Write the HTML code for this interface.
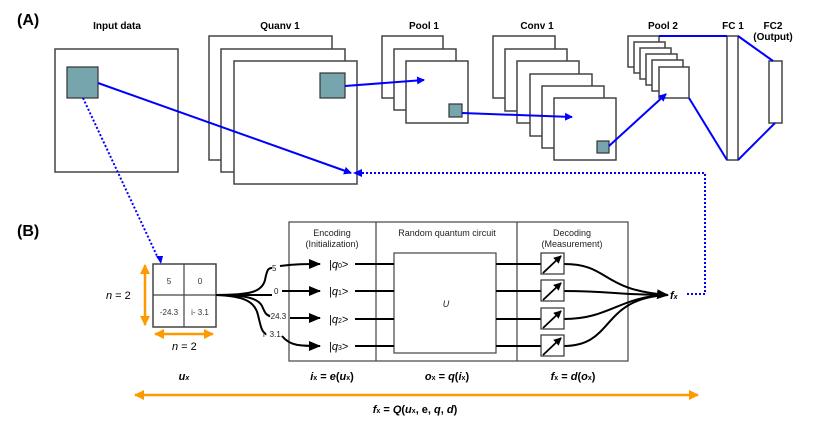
<!DOCTYPE html>
<html><head><meta charset="utf-8"><style>
body{margin:0;background:#fff}
svg{display:block;font-family:"Liberation Sans",Arial,sans-serif}
</style></head><body>
<svg width="830" height="432" viewBox="0 0 830 432" xmlns="http://www.w3.org/2000/svg">
<defs>
<marker id="ab" markerWidth="8" markerHeight="8" refX="7" refY="4" orient="auto" markerUnits="userSpaceOnUse"><path d="M0,0 L8,4 L0,8 z" fill="#00f"/></marker>
<marker id="ak" markerWidth="12" markerHeight="10" refX="11" refY="5" orient="auto" markerUnits="userSpaceOnUse"><path d="M0,0 L12,5 L0,10 z" fill="#000"/></marker>
<marker id="am" markerWidth="8" markerHeight="8" refX="7" refY="4" orient="auto" markerUnits="userSpaceOnUse"><path d="M0,0 L8,4 L0,8 z" fill="#000"/></marker>
<marker id="ao" markerWidth="10" markerHeight="10" refX="9" refY="5" orient="auto-start-reverse" markerUnits="userSpaceOnUse"><path d="M0,0 L10,5 L0,10 z" fill="#f90"/></marker>
</defs>
<g font-weight="bold" font-size="16"><text x="17" y="25">(A)</text><text x="17" y="236">(B)</text></g>
<g font-weight="bold" font-size="10" text-anchor="middle">
<text x="117" y="29">Input data</text><text x="280" y="29">Quanv 1</text>
<text x="424" y="29">Pool 1</text><text x="537" y="29">Conv 1</text>
<text x="663" y="29">Pool 2</text><text x="733" y="29">FC 1</text>
<text x="773" y="29">FC2</text><text x="773" y="40">(Output)</text></g>
<g stroke="#444" stroke-width="1.5" fill="#fff">
<rect x="55" y="49" width="123" height="123"/>
<rect x="209" y="36" width="123" height="124"/><rect x="221" y="49" width="124" height="123"/><rect x="234" y="61" width="123" height="123"/>
<rect x="382" y="36" width="61" height="62"/><rect x="394" y="49" width="62" height="61"/><rect x="406" y="61" width="62" height="62"/>
<rect x="493" y="36" width="62" height="62"/><rect x="505" y="49" width="62" height="62"/><rect x="517" y="61" width="62" height="62"/><rect x="530" y="74" width="62" height="62"/><rect x="542" y="86" width="62" height="62"/><rect x="554" y="98" width="62" height="62"/>
<rect x="628" y="36" width="31" height="31"/><rect x="634" y="42" width="31" height="31"/><rect x="640" y="48" width="31" height="31"/><rect x="646" y="54" width="31" height="31"/><rect x="652" y="60" width="31" height="31"/><rect x="659" y="67" width="30" height="31"/>
<rect x="727" y="36" width="11" height="124"/><rect x="769" y="61" width="13" height="62"/>
</g>
<g fill="#77a5ae" stroke="#333" stroke-width="1.2">
<rect x="67" y="67" width="31" height="31"/><rect x="320" y="73" width="25" height="25"/>
<rect x="449" y="104" width="13" height="13"/><rect x="597" y="141" width="12" height="12"/></g>
<g stroke="#00f" stroke-width="2" fill="none">
<line x1="98" y1="83" x2="351" y2="173" marker-end="url(#ab)"/>
<line x1="345" y1="86" x2="424" y2="80" marker-end="url(#ab)"/>
<line x1="462" y1="113" x2="572" y2="117" marker-end="url(#ab)"/>
<line x1="609" y1="146" x2="666" y2="94" marker-end="url(#ab)"/>
<line x1="659" y1="36" x2="727" y2="36"/><line x1="689" y1="98" x2="727" y2="160"/>
<line x1="738" y1="36" x2="773" y2="61"/><line x1="738" y1="160" x2="775" y2="123"/>
</g>
<g stroke="#00f" stroke-width="2" fill="none" stroke-dasharray="2,2">
<line x1="83" y1="98" x2="158" y2="258"/>
<path d="M687,294 L705,294 L705,173 L362,173"/>
</g>
<path d="M156,256 L163,256 L161,264 z" fill="#00f"/>
<path d="M353,173 L362,169 L362,177 z" fill="#00f"/>
<g stroke="#444" stroke-width="1.5" fill="#fff">
<rect x="153" y="264" width="63" height="63"/></g>
<line x1="184" y1="264" x2="184" y2="327" stroke="#444" stroke-width="1.2"/>
<line x1="153" y1="295" x2="216" y2="295" stroke="#444" stroke-width="1.2"/>
<g font-size="8" text-anchor="middle" fill="#333"><text x="169" y="284">5</text><text x="200" y="284">0</text><text x="169" y="315">-24.3</text><text x="200" y="315">i- 3.1</text></g>
<g stroke="#f90" stroke-width="2.5" fill="none">
<line x1="145" y1="265" x2="145" y2="325" marker-end="url(#ao)" marker-start="url(#ao)"/>
<line x1="155" y1="334" x2="213" y2="334" marker-end="url(#ao)" marker-start="url(#ao)"/>
<line x1="135" y1="395" x2="698" y2="395" marker-end="url(#ao)" marker-start="url(#ao)"/></g>
<g font-size="11"><text x="106" y="299"><tspan font-style="italic">n</tspan> = 2</text><text x="172" y="350"><tspan font-style="italic">n</tspan> = 2</text></g>
<g stroke="#444" stroke-width="1.2" fill="none">
<rect x="289" y="222" width="339" height="139"/><line x1="376" y1="222" x2="376" y2="361"/><line x1="517" y1="222" x2="517" y2="361"/>
<rect x="394" y="253" width="102" height="100" fill="#fff"/></g>
<g font-size="9" text-anchor="middle" fill="#222"><text x="332" y="236">Encoding</text><text x="332" y="247">(Initialization)</text>
<text x="447" y="236">Random quantum circuit</text><text x="572" y="236">Decoding</text><text x="572" y="247">(Measurement)</text>
<text x="446" y="307" font-style="italic">U</text></g>
<g stroke="#000" stroke-width="2" fill="none">
<path d="M216,295 C250,295 262,292 265,280 C267,270 268,268 272,268"/>
<path d="M216,295 L272,295"/>
<path d="M216,295 C245,295 258,298 262,306 C265,313 266,315 270,316"/>
<path d="M216,295 C245,296 255,302 258,315 C261,328 262,332 266,334"/>
<path d="M280,266 C295,264 305,264 320,264" marker-end="url(#ak)"/>
<path d="M282,291 L320,291" marker-end="url(#ak)"/>
<path d="M290,318 L320,318" marker-end="url(#ak)"/>
<path d="M282,336 C290,346 300,346 320,346" marker-end="url(#ak)"/>
<path d="M355,264 H394 M355,291 H394 M355,319 H394 M355,346 H394"/>
<path d="M496,264 H541 M496,291 H541 M496,319 H541 M496,346 H541"/>
<path d="M564,264 C610,264 600,290 668,295" marker-end="url(#ak)"/>
<path d="M564,291 C610,291 620,295 668,295"/>
<path d="M564,319 C610,319 620,296 668,295"/>
<path d="M564,346 C615,346 600,298 668,295"/>
</g>
<g font-size="8" fill="#222"><text x="272" y="271">5</text><text x="274" y="294">0</text><text x="268" y="319">-24.3</text><text x="263" y="337">i- 3.1</text></g>
<g font-size="11"><text x="329" y="268">|<tspan font-style="italic">q</tspan><tspan font-size="7">0</tspan>&gt;</text><text x="329" y="295">|<tspan font-style="italic">q</tspan><tspan font-size="7">1</tspan>&gt;</text><text x="329" y="323">|<tspan font-style="italic">q</tspan><tspan font-size="7">2</tspan>&gt;</text><text x="329" y="350">|<tspan font-style="italic">q</tspan><tspan font-size="7">3</tspan>&gt;</text></g>
<g stroke="#333" stroke-width="1.2" fill="#fff">
<rect x="541" y="253" width="23" height="21"/><rect x="541" y="280" width="23" height="21"/><rect x="541" y="308" width="23" height="21"/><rect x="541" y="335" width="23" height="21"/></g>
<g stroke="#000" stroke-width="1.8">
<line x1="543" y1="273" x2="561" y2="256" marker-end="url(#am)"/><line x1="543" y1="300" x2="561" y2="283" marker-end="url(#am)"/><line x1="543" y1="328" x2="561" y2="311" marker-end="url(#am)"/><line x1="543" y1="355" x2="561" y2="338" marker-end="url(#am)"/></g>
<text x="670" y="299" font-size="11" font-weight="bold" font-style="italic">f<tspan font-size="7">x</tspan></text>
<g font-size="11" font-weight="bold" text-anchor="middle">
<text x="184" y="380" font-style="italic">u<tspan font-size="7">x</tspan></text>
<text x="332" y="380"><tspan font-style="italic">i</tspan><tspan font-size="7">x</tspan> = <tspan font-style="italic">e</tspan>(<tspan font-style="italic">u</tspan><tspan font-size="7">x</tspan>)</text>
<text x="447" y="380"><tspan font-style="italic">o</tspan><tspan font-size="7">x</tspan> = <tspan font-style="italic">q</tspan>(<tspan font-style="italic">i</tspan><tspan font-size="7">x</tspan>)</text>
<text x="573" y="380"><tspan font-style="italic">f</tspan><tspan font-size="7">x</tspan> = <tspan font-style="italic">d</tspan>(<tspan font-style="italic">o</tspan><tspan font-size="7">x</tspan>)</text>
<text x="415" y="413"><tspan font-style="italic">f</tspan><tspan font-size="7">x</tspan> = <tspan font-style="italic">Q</tspan>(<tspan font-style="italic">u</tspan><tspan font-size="7">x</tspan>, e, <tspan font-style="italic">q</tspan>, <tspan font-style="italic">d</tspan>)</text>
</g>
</svg>
</body></html>
